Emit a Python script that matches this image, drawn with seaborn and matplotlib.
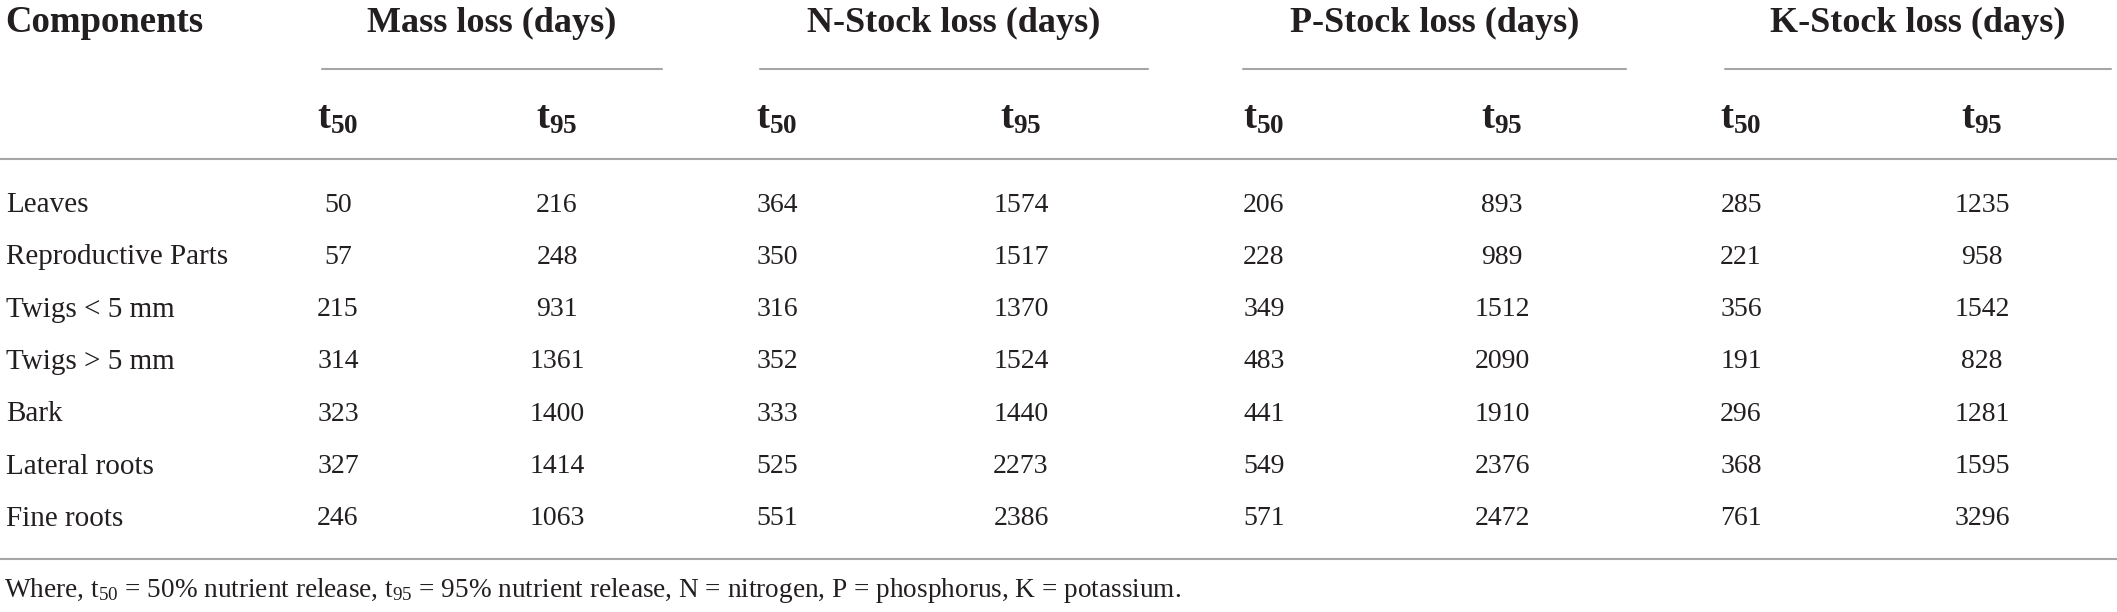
import matplotlib
matplotlib.use('Agg')
import matplotlib.pyplot as plt
import seaborn as sns

# table data
components = ['Leaves', 'Reproductive Parts', 'Twigs < 5 mm', 'Twigs > 5 mm',
              'Bark', 'Lateral roots', 'Fine roots']
groups = ['Mass loss (days)', 'N-Stock loss (days)', 'P-Stock loss (days)', 'K-Stock loss (days)']
sub_labels = [r'$\mathbf{t}_{\mathbf{50}}$', r'$\mathbf{t}_{\mathbf{95}}$']
mass_t50 = [50, 57, 215, 314, 323, 327, 246]
mass_t95 = [216, 248, 931, 1361, 1400, 1414, 1063]
n_t50 = [364, 350, 316, 352, 333, 525, 551]
n_t95 = [1574, 1517, 1370, 1524, 1440, 2273, 2386]
p_t50 = [206, 228, 349, 483, 441, 549, 571]
p_t95 = [893, 989, 1512, 2090, 1910, 2376, 2472]
k_t50 = [285, 221, 356, 191, 296, 368, 761]
k_t95 = [1235, 958, 1542, 828, 1281, 1595, 3296]
footnote = ('Where, t$_{50}$ = 50% nutrient release, t$_{95}$ = 95% nutrient release, '
            'N = nitrogen, P = phosphorus, K = potassium.')

columns = [mass_t50, mass_t95, n_t50, n_t95, p_t50, p_t95, k_t50, k_t95]

sns.set_theme(style='white')
plt.rcParams['font.family'] = ['Liberation Serif', 'DejaVu Serif']
plt.rcParams['mathtext.fontset'] = 'custom'
plt.rcParams['mathtext.rm'] = 'Liberation Serif'
plt.rcParams['mathtext.it'] = 'Liberation Serif'
plt.rcParams['mathtext.bf'] = 'Liberation Serif:bold'

W, H = 2117, 612
fig = plt.figure(figsize=(W / 100, H / 100), dpi=100)
ax = fig.add_axes([0, 0, 1, 1])
ax.set_xlim(0, W)
ax.set_ylim(H, 0)
ax.axis('off')

txt = '#231f20'
rule = '#a6a6a6'
col_x = [338, 557, 777, 1021, 1264, 1502, 1741, 1982]
spans = [(322, 662), (760, 1148), (1243, 1626), (1725, 2111)]
row_y = [205 + i * 52.3 for i in range(len(components))]

# header
ax.text(5, 32, 'Components', fontsize=26.5, fontweight='bold', color=txt, va='baseline', ha='left')
for g, (a, b) in zip(groups, spans):
    ax.text((a + b) / 2, 32, g, fontsize=26, fontweight='bold', color=txt, va='baseline', ha='center')
    ax.plot([a, b], [69, 69], color=rule, lw=1.5)
for i, x in enumerate(col_x):
    ax.text(x, 119, sub_labels[i % 2], fontsize=28, color=txt, va='center', ha='center')
ax.plot([0, W], [159, 159], color=rule, lw=1.5)

# body
for j, name in enumerate(components):
    ax.text(6, row_y[j], name, fontsize=21, color=txt, va='center', ha='left')
    for x, col in zip(col_x, columns):
        ax.text(x, row_y[j], str(col[j]), fontsize=20, color=txt, va='center', ha='center')
ax.plot([0, W], [559, 559], color=rule, lw=1.5)

ax.text(4, 597, footnote, fontsize=19.6, color=txt, va='baseline', ha='left')

fig.savefig('out.png', dpi=100)
